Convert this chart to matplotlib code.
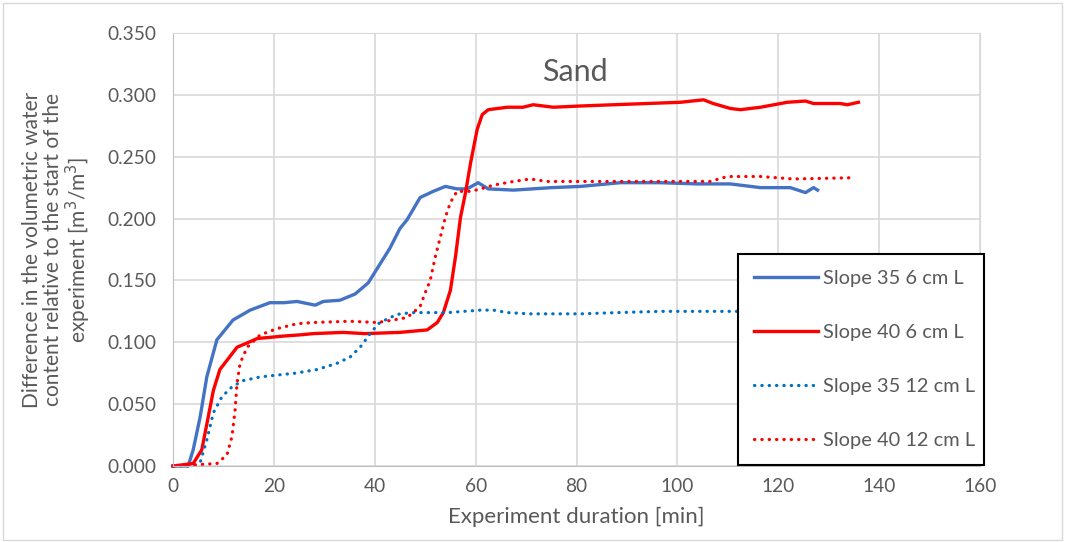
import matplotlib.pyplot as plt
from matplotlib.patches import Rectangle

# Slope 35 6 cm L
s35_6_t = [0, 3, 4, 5.4, 6.7, 8.7, 11.9, 15.3, 19.2, 22, 24.6, 28.2, 29.8, 33.1, 36.1, 38.7, 40.7,
           43, 45, 46.4, 49, 51.6, 54, 56.3, 58.3, 60.5, 62.5, 67.5, 75, 80.8, 88.7, 96.6, 104,
           110.5, 116.5, 122.4, 125.4, 127, 127.8]
s35_6_y = [0, 0, 0.013, 0.040, 0.072, 0.102, 0.118, 0.126, 0.132, 0.132, 0.133, 0.130, 0.133, 0.134,
           0.139, 0.148, 0.161, 0.176, 0.192, 0.199, 0.217, 0.222, 0.226, 0.224, 0.224, 0.229, 0.224,
           0.223, 0.225, 0.226, 0.229, 0.229, 0.228, 0.228, 0.225, 0.225, 0.221, 0.225, 0.223]

# Slope 40 6 cm L
s40_6_t = [0, 4, 5.7, 7, 8, 9.3, 12.7, 16.7, 21.8, 25.2, 27.8, 33.7, 38, 45, 50.4, 52.4, 53.6, 55,
           56, 57, 58, 59, 60.3, 61.3, 62.5, 66.3, 69.4, 71.4, 75.4, 80.8, 87.3, 94, 100.6, 105.2,
           107.1, 110.5, 112.5, 116.5, 121.8, 125.4, 127, 132.3, 133.7, 135.9]
s40_6_y = [0, 0.002, 0.013, 0.040, 0.061, 0.078, 0.096, 0.103, 0.105, 0.106, 0.107, 0.108, 0.107,
           0.108, 0.110, 0.116, 0.124, 0.142, 0.169, 0.201, 0.221, 0.245, 0.272, 0.284, 0.288, 0.290,
           0.290, 0.292, 0.290, 0.291, 0.292, 0.293, 0.294, 0.296, 0.293, 0.289, 0.288, 0.290, 0.294,
           0.295, 0.293, 0.293, 0.292, 0.294]

# Slope 35 12 cm L
s35_12_t = [0, 4, 5.4, 6.7, 8, 9.7, 11.7, 13.9, 17.3, 21.8, 24.2, 28.6, 32.5, 35.1, 37.1, 39.1,
            40.7, 43, 45, 47.6, 54.4, 61, 63.5, 66.3, 70.8, 80.8, 88.1, 96.6, 111.5, 125]
s35_12_y = [0, 0, 0.003, 0.021, 0.043, 0.056, 0.064, 0.069, 0.072, 0.074, 0.075, 0.078, 0.083,
            0.088, 0.096, 0.107, 0.115, 0.120, 0.123, 0.124, 0.124, 0.126, 0.126, 0.124, 0.123,
            0.123, 0.124, 0.125, 0.125, 0.125]

# Slope 40 12 cm L
s40_12_t = [0, 8.7, 10.7, 11.7, 12.3, 12.7, 13.3, 14.7, 17.3, 20.6, 24.6, 27.8, 35.1, 40.5, 43.7,
            46.4, 47.6, 49, 50, 51, 52, 53, 54, 55, 56.3, 59, 61, 63.5, 67.5, 70.8, 74.2, 80.8,
            88.7, 96.6, 106.5, 109.9, 116.5, 123, 134.5]
s40_12_y = [0, 0.002, 0.009, 0.024, 0.045, 0.067, 0.083, 0.096, 0.106, 0.111, 0.115, 0.116, 0.117,
            0.116, 0.118, 0.120, 0.124, 0.129, 0.140, 0.150, 0.169, 0.185, 0.201, 0.213, 0.222,
            0.222, 0.224, 0.227, 0.230, 0.232, 0.230, 0.230, 0.230, 0.230, 0.230, 0.234, 0.234,
            0.232, 0.233]

x_ticks = [0, 20, 40, 60, 80, 100, 120, 140, 160]
y_ticks = [0.0, 0.05, 0.1, 0.15, 0.2, 0.25, 0.3, 0.35]

plt.rcParams['font.family'] = ['Lato', 'DejaVu Sans']
txt = '#595959'

fig = plt.figure(figsize=(10.65, 5.42), dpi=100)
ax = fig.add_axes([173 / 1065, 76 / 542, 807 / 1065, 433 / 542])

dot = (0, (0.1, 2.2))
ax.plot(s35_6_t, s35_6_y, color='#4472C4', lw=2.4, label='Slope 35 6 cm L', clip_on=False)
ax.plot(s40_6_t, s40_6_y, color='#FF0000', lw=2.4, label='Slope 40 6 cm L', clip_on=False)
ax.plot(s35_12_t, s35_12_y, color='#0070C0', lw=2.3, ls=dot, dash_capstyle='round',
        label='Slope 35 12 cm L', clip_on=False)
ax.plot(s40_12_t, s40_12_y, color='#FF0000', lw=2.3, ls=dot, dash_capstyle='round',
        label='Slope 40 12 cm L', clip_on=False)

ax.set_xlim(0, 160)
ax.set_ylim(0, 0.35)
ax.set_xticks(x_ticks)
ax.set_yticks(y_ticks)
ax.set_yticklabels([f'{v:.3f}' for v in y_ticks])
ax.tick_params(length=0, labelsize=13.8, labelcolor=txt)
ax.tick_params(axis='y', pad=12)
ax.tick_params(axis='x', pad=9)
ax.grid(color='#d9d9d9', lw=1.2)
ax.set_axisbelow(True)
for s in ax.spines.values():
    s.set_color('#d9d9d9')
ax.spines['left'].set_color('#bfbfbf')
ax.spines['bottom'].set_color('#bfbfbf')

ax.set_xlabel('Experiment duration [min]', fontsize=16, color=txt, labelpad=8)
ax.set_ylabel('Difference in the volumetric water\ncontent relative to the start of the\n'
              'experiment [m$^3$/m$^3$]', fontsize=15, color=txt, labelpad=10,
              linespacing=1.05)
ax.text(0.498, 0.91, 'Sand', transform=ax.transAxes, ha='center', va='center',
        fontsize=22, color=txt)

leg = fig.legend(loc='lower left', bbox_to_anchor=(738 / 1065, 77 / 542, 246 / 1065, 212 / 542),
                 mode='expand', fontsize=14.4, labelcolor=txt, fancybox=False, framealpha=1,
                 edgecolor='black', handlelength=3.2, handletextpad=0.25, labelspacing=1.85,
                 borderpad=0.8, borderaxespad=0)
leg.get_frame().set_linewidth(1.5)

fig.patches.append(Rectangle((0.003, 0.004), 0.994, 0.99, transform=fig.transFigure,
                             fill=False, edgecolor='#d9d9d9', lw=1))

fig.savefig('out.png', dpi=100)
